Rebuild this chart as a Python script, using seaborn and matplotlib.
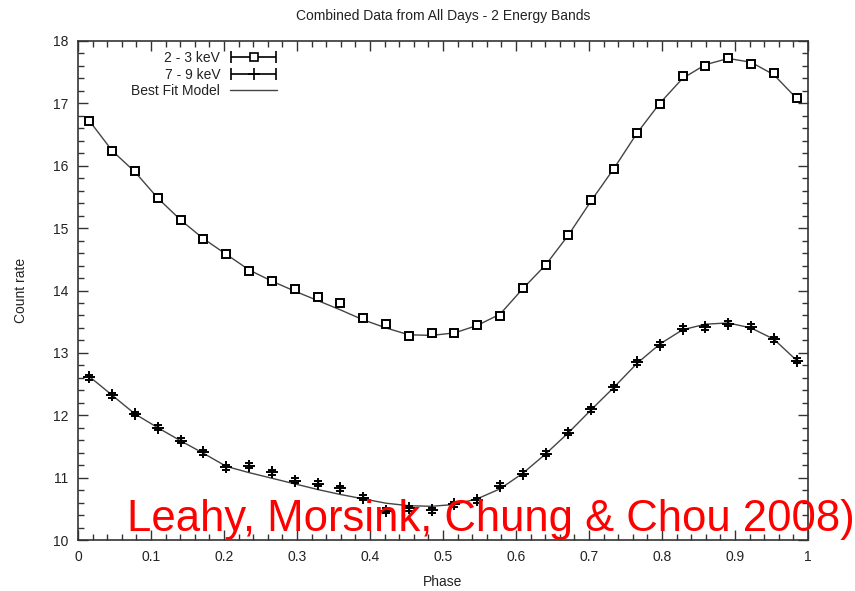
import numpy as np
import pandas as pd
import matplotlib
matplotlib.use("Agg")
import matplotlib.pyplot as plt
import seaborn as sns
from matplotlib.ticker import MultipleLocator
from matplotlib.container import ErrorbarContainer
from matplotlib.legend_handler import HandlerErrorbar

# phase bins (32 bins, centres)
phase = [(i + 0.5) / 32 for i in range(32)]

# 2 - 3 keV count rate
soft_rate = [16.72, 16.24, 15.92, 15.48, 15.13, 14.83, 14.59, 14.31,
             14.15, 14.02, 13.90, 13.80, 13.56, 13.46, 13.27, 13.32,
             13.32, 13.45, 13.59, 14.04, 14.41, 14.89, 15.45, 15.95,
             16.53, 16.99, 17.44, 17.60, 17.73, 17.63, 17.49, 17.09]
soft_err = [0.04] * 32

# 7 - 9 keV count rate
hard_rate = [12.61, 12.32, 12.02, 11.80, 11.59, 11.41, 11.17, 11.19,
             11.09, 10.95, 10.90, 10.83, 10.68, 10.47, 10.51, 10.48,
             10.57, 10.64, 10.87, 11.06, 11.38, 11.72, 12.10, 12.45,
             12.85, 13.13, 13.39, 13.41, 13.47, 13.42, 13.22, 12.87]
hard_err = [0.04] * 32

# best fit model values at the same phases
soft_model = [16.72, 16.24, 15.90, 15.48, 15.13, 14.83, 14.58, 14.33,
              14.15, 13.99, 13.84, 13.69, 13.53, 13.40, 13.29, 13.28,
              13.32, 13.44, 13.62, 14.03, 14.41, 14.89, 15.44, 15.96,
              16.52, 17.00, 17.40, 17.62, 17.72, 17.66, 17.46, 17.08]
hard_model = [12.62, 12.32, 12.02, 11.80, 11.59, 11.39, 11.18, 11.08,
              10.99, 10.90, 10.81, 10.73, 10.66, 10.59, 10.55, 10.54,
              10.57, 10.66, 10.82, 11.07, 11.38, 11.72, 12.09, 12.45,
              12.83, 13.14, 13.37, 13.46, 13.48, 13.40, 13.22, 12.88]

df = pd.DataFrame({"phase": phase, "soft": soft_rate, "hard": hard_rate,
                   "soft_model": soft_model, "hard_model": hard_model})

sns.set_style("ticks")
plt.rcParams["font.family"] = ["Liberation Sans", "DejaVu Sans"]

fig = plt.figure(figsize=(8.55, 5.91), dpi=100)
ax = fig.add_axes([78 / 855, 1 - 540 / 591, 730 / 855, 499 / 591])

# model curves
sns.lineplot(data=df, x="phase", y="soft_model", ax=ax, color="#444444",
             linewidth=1.0, label="Best Fit Model", zorder=2)
sns.lineplot(data=df, x="phase", y="hard_model", ax=ax, color="#444444",
             linewidth=1.0, label="_nolegend_", zorder=2)

# data with error bars
ax.errorbar(df["phase"], df["soft"], yerr=soft_err, fmt="s", ms=6,
            mfc="white", mec="black", mew=1.4, ecolor="black", elinewidth=1,
            capsize=2.5, zorder=3)
ax.errorbar(df["phase"], df["hard"], yerr=hard_err, fmt="+", ms=8,
            mec="black", mew=1.4, ecolor="black", elinewidth=1,
            capsize=3, zorder=3)

# legend proxies (gnuplot style: horizontal bar with end caps)
p_soft = ax.errorbar([-1], [-1], xerr=[0.1], fmt="s", ms=6, mfc="white",
                     mec="black", mew=1.2, ecolor="black", elinewidth=1.2,
                     capsize=4, label="2 - 3 keV")
p_hard = ax.errorbar([-1], [-1], xerr=[0.1], fmt="+", ms=8, mec="black",
                     mew=1.2, ecolor="black", elinewidth=1.2, capsize=4,
                     label="7 - 9 keV")

ax.set_xlim(0, 1)
ax.set_ylim(10, 18)
ax.xaxis.set_major_locator(MultipleLocator(0.1))
ax.xaxis.set_minor_locator(MultipleLocator(0.02))
ax.yaxis.set_major_locator(MultipleLocator(1))
ax.yaxis.set_minor_locator(MultipleLocator(0.2))
ax.set_xticks(np.arange(0, 1.01, 0.1))
ax.set_xticklabels(["0", "0.1", "0.2", "0.3", "0.4", "0.5", "0.6", "0.7", "0.8", "0.9", "1"])
ax.tick_params(which="both", direction="in", top=True, right=True,
               labelsize=10, color="#333333", labelcolor="#222222")
ax.tick_params(which="major", length=7, width=1, pad=7)
ax.tick_params(which="minor", length=4, width=1)
for s in ax.spines.values():
    s.set_color("#333333")
    s.set_linewidth(1.2)

ax.set_xlabel("Phase", fontsize=10, color="#222222", labelpad=8)
ax.set_ylabel("Count rate", fontsize=10, color="#222222", labelpad=18)
ax.set_title("Combined Data from All Days - 2 Energy Bands", fontsize=10,
             color="#222222", pad=15)

# markerfirst=False right-aligns the labels, as gnuplot does
line_handle = ax.get_legend_handles_labels()[0][0]
leg = ax.legend([p_soft, p_hard, line_handle],
                ["2 - 3 keV", "7 - 9 keV", "Best Fit Model"],
                loc="upper left", bbox_to_anchor=(0.056, 1.005), frameon=False,
                markerfirst=False, fontsize=10, handlelength=3.4,
                labelspacing=0.18, handletextpad=0.7,
                handler_map={ErrorbarContainer: HandlerErrorbar(xerr_size=1.6)})
for t in leg.get_texts():
    t.set_color("#222222")

fig.text(127 / 855, 1 - 531 / 591, "Leahy, Morsink, Chung & Chou 2008)",
         color="red", fontsize=31.4, ha="left", va="baseline")

fig.savefig("out.png", dpi=100)
